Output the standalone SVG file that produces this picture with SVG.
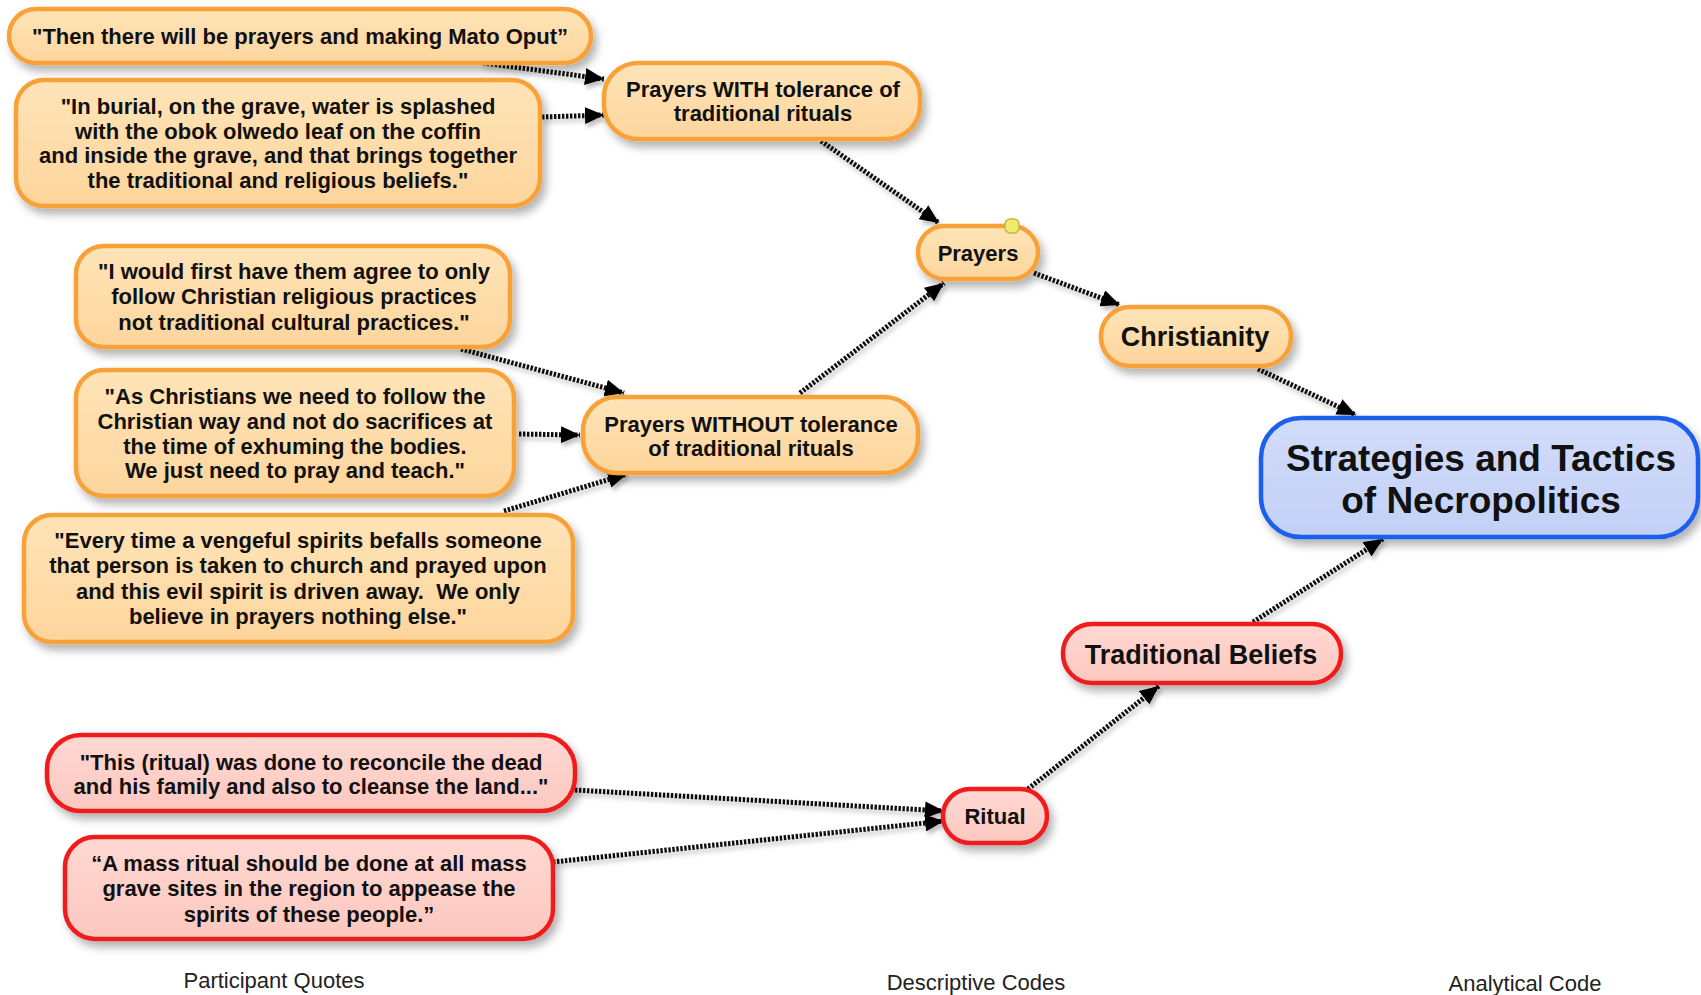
<svg xmlns="http://www.w3.org/2000/svg" width="1701" height="995" viewBox="0 0 1701 995">
<defs>
<linearGradient id="gO" x1="0" y1="0" x2="0" y2="1"><stop offset="0" stop-color="#FFE4B8"/><stop offset="1" stop-color="#FDD59C"/></linearGradient>
<linearGradient id="gR" x1="0" y1="0" x2="0" y2="1"><stop offset="0" stop-color="#FFD8D2"/><stop offset="1" stop-color="#FCC8BF"/></linearGradient>
<linearGradient id="gB" x1="0" y1="0" x2="0" y2="1"><stop offset="0" stop-color="#D2DCFA"/><stop offset="1" stop-color="#C3D0F6"/></linearGradient>
<filter id="sh" x="-10%" y="-20%" width="130%" height="150%"><feDropShadow dx="4" dy="6" stdDeviation="4" flood-color="#000" flood-opacity="0.3"/></filter>
<filter id="lsh" filterUnits="userSpaceOnUse" x="0" y="0" width="1701" height="995"><feDropShadow dx="2" dy="4" stdDeviation="2" flood-color="#000" flood-opacity="0.25"/></filter>
<marker id="ar" viewBox="0 0 19 17" refX="19" refY="8.5" markerWidth="19" markerHeight="17" markerUnits="userSpaceOnUse" orient="auto"><path d="M0,0 L19,8.5 L0,17 Z" fill="#000"/></marker>
<style>
.o{fill:url(#gO);stroke:#F7A137;stroke-width:4.5;filter:url(#sh)}
.r{fill:url(#gR);stroke:#EE1E1E;stroke-width:4.5;filter:url(#sh)}
.b{fill:url(#gB);stroke:#1F5FEF;stroke-width:4.5;filter:url(#sh)}
text{font-family:"Liberation Sans",Arial,Helvetica,sans-serif;fill:#111;text-anchor:middle;white-space:pre}
.t{font-size:22px;font-weight:bold}
.t27{font-size:27px;font-weight:bold}
.t37{font-size:37px;font-weight:bold}
.lab{font-size:22px;fill:#222}
.c{fill:none;stroke:#111;stroke-width:5;stroke-dasharray:2.4 1.6;marker-end:url(#ar)}
</style>
</defs>
<rect width="1701" height="995" fill="#fff"/>
<g id="connectors" filter="url(#lsh)">
<line class="c" x1="483" y1="63" x2="604" y2="79"/>
<line class="c" x1="542" y1="117" x2="604" y2="115"/>
<line class="c" x1="821" y1="141" x2="939" y2="223"/>
<line class="c" x1="1034" y1="273" x2="1120" y2="305"/>
<line class="c" x1="1258" y1="369" x2="1356" y2="415"/>
<line class="c" x1="461" y1="349" x2="624" y2="393"/>
<line class="c" x1="519" y1="434" x2="580" y2="435"/>
<line class="c" x1="504" y1="511" x2="627" y2="474"/>
<line class="c" x1="800" y1="393" x2="944" y2="283"/>
<line class="c" x1="575" y1="790" x2="944" y2="811"/>
<line class="c" x1="553" y1="862" x2="944" y2="821"/>
<line class="c" x1="1028" y1="789" x2="1159" y2="686"/>
<line class="c" x1="1253" y1="622" x2="1383" y2="539"/>
</g>
<g id="q1"><rect class="o" x="9" y="9" width="582" height="54" rx="27"/><text class="t" x="300" y="44">"Then there will be prayers and making Mato Oput”</text></g>
<g id="q2"><rect class="o" x="16" y="80" width="524" height="126" rx="28"/><text class="t"><tspan x="278" y="114">"In burial, on the grave, water is splashed</tspan><tspan x="278" y="139">with the obok olwedo leaf on the coffin</tspan><tspan x="278" y="163">and inside the grave, and that brings together</tspan><tspan x="278" y="188">the traditional and religious beliefs."</tspan></text></g>
<g id="with"><rect class="o" x="604" y="63" width="316" height="76" rx="34"/><text class="t"><tspan x="763" y="97">Prayers WITH tolerance of</tspan><tspan x="763" y="121">traditional rituals</tspan></text></g>
<g id="prayers"><rect class="o" x="918" y="226" width="120" height="53" rx="26.5"/><text class="t" x="978" y="261">Prayers</text><rect x="1005" y="219" width="14" height="14" rx="5" fill="#EEEA6E" stroke="#C9B43E" stroke-width="1.5"/></g>
<g id="christianity"><rect class="o" x="1101" y="307" width="190" height="59" rx="29"/><text class="t27" x="1195" y="346">Christianity</text></g>
<g id="strategies"><rect class="b" x="1261" y="418" width="437" height="119" rx="40"/><text class="t37"><tspan x="1481" y="471">Strategies and Tactics</tspan><tspan x="1481" y="513">of Necropolitics</tspan></text></g>
<g id="q3"><rect class="o" x="76" y="246" width="434" height="101" rx="28"/><text class="t"><tspan x="294" y="279">"I would first have them agree to only</tspan><tspan x="294" y="304">follow Christian religious practices</tspan><tspan x="294" y="330">not traditional cultural practices."</tspan></text></g>
<g id="q4"><rect class="o" x="76" y="370" width="438" height="126" rx="28"/><text class="t"><tspan x="295" y="404">"As Christians we need to follow the</tspan><tspan x="295" y="429">Christian way and not do sacrifices at</tspan><tspan x="295" y="454">the time of exhuming the bodies.</tspan><tspan x="295" y="478">We just need to pray and teach."</tspan></text></g>
<g id="without"><rect class="o" x="583" y="397" width="335" height="76" rx="34"/><text class="t"><tspan x="751" y="432">Prayers WITHOUT tolerance</tspan><tspan x="751" y="456">of traditional rituals</tspan></text></g>
<g id="q5"><rect class="o" x="24" y="515" width="549" height="127" rx="28"/><text class="t"><tspan x="298" y="548">"Every time a vengeful spirits befalls someone</tspan><tspan x="298" y="573">that person is taken to church and prayed upon</tspan><tspan x="298" y="599">and this evil spirit is driven away.  We only</tspan><tspan x="298" y="624">believe in prayers nothing else."</tspan></text></g>
<g id="traditional"><rect class="r" x="1063" y="624" width="278" height="59" rx="29"/><text class="t27" x="1201" y="664">Traditional Beliefs</text></g>
<g id="q6"><rect class="r" x="47" y="735" width="528" height="76" rx="34"/><text class="t"><tspan x="311" y="770">"This (ritual) was done to reconcile the dead</tspan><tspan x="311" y="794">and his family and also to cleanse the land..."</tspan></text></g>
<g id="q7"><rect class="r" x="65" y="837" width="488" height="102" rx="30"/><text class="t"><tspan x="309" y="871">“A mass ritual should be done at all mass</tspan><tspan x="309" y="896">grave sites in the region to appease the</tspan><tspan x="309" y="922">spirits of these people.”</tspan></text></g>
<g id="ritual"><rect class="r" x="943" y="789" width="104" height="54" rx="27"/><text class="t" x="995" y="824">Ritual</text></g>
<g id="labels"><text class="lab" x="274" y="988">Participant Quotes</text><text class="lab" x="976" y="990">Descriptive Codes</text><text class="lab" x="1525" y="991">Analytical Code</text></g>
</svg>
